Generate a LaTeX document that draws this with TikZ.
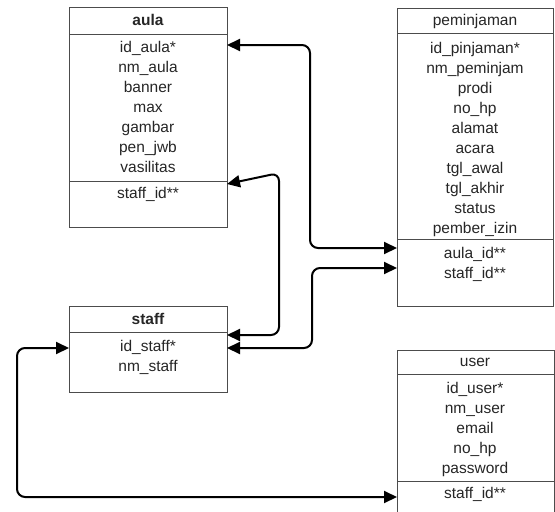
\documentclass[tikz,border=0pt]{standalone}
\usepackage{fontspec}
\setmainfont{Liberation Sans}
\usetikzlibrary{arrows.meta}
\begin{document}
\begin{tikzpicture}[x=1pt,y=-1pt]
\tikzset{
  box/.style={draw=black!70, line width=1pt},
  sep/.style={draw=black!70, line width=1pt},
  field/.style={inner sep=0pt, anchor=center, text height=11pt, text depth=3pt, text=black!85, font=\fontsize{15.5}{18}\selectfont},
  ttl/.style={field, font=\fontsize{15.5}{18}\selectfont\bfseries},
  ttlplain/.style={field},
  link/.style={line width=2pt, rounded corners=8pt,
    {Triangle[length=13pt,width=12pt]}-{Triangle[length=13pt,width=12pt]}}
}
\useasboundingbox (0,0) rectangle (555,512);
\fill[white] (0,0) rectangle (555,512);
% aula
\draw[box] (69,7) rectangle (227,227);
\draw[sep] (69,34) -- (227,34);
\draw[sep] (69,181) -- (227,181);
\node[ttl] (aulaT) at (148,21) {aula};
\node[field] (a1) at (148,48) {id\_aula*};
\node[field] (a2) at (148,68) {nm\_aula};
\node[field] (a3) at (148,88) {banner};
\node[field] (a4) at (148,108) {max};
\node[field] (a5) at (148,128) {gambar};
\node[field] (a6) at (148,148) {pen\_jwb};
\node[field] (a7) at (148,168) {vasilitas};
\node[field] (a8) at (148,194) {staff\_id**};
% peminjaman
\draw[box] (397,8) rectangle (553,306);
\draw[sep] (397,33) -- (553,33);
\draw[sep] (397,239) -- (553,239);
\node[ttlplain] (pT) at (475,21) {peminjaman};
\node[field] (p1) at (475,49) {id\_pinjaman*};
\node[field] (p2) at (475,69) {nm\_peminjam};
\node[field] (p3) at (475,89) {prodi};
\node[field] (p4) at (475,109) {no\_hp};
\node[field] (p5) at (475,129) {alamat};
\node[field] (p6) at (475,149) {acara};
\node[field] (p7) at (475,169) {tgl\_awal};
\node[field] (p8) at (475,189) {tgl\_akhir};
\node[field] (p9) at (475,209) {status};
\node[field] (p10) at (475,229) {pember\_izin};
\node[field] (p11) at (475,254) {aula\_id**};
\node[field] (p12) at (475,274) {staff\_id**};
% staff
\draw[box] (69,306) rectangle (227,392);
\draw[sep] (69,332) -- (227,332);
\node[ttl] (sT) at (148,320) {staff};
\node[field] (s1) at (148,347) {id\_staff*};
\node[field] (s2) at (148,367) {nm\_staff};
% user
\draw[box] (397,350) rectangle (554,530);
\draw[sep] (397,374) -- (554,374);
\draw[sep] (397,481) -- (554,481);
\node[ttlplain] (uT) at (475,362) {user};
\node[field] (u1) at (475,389) {id\_user*};
\node[field] (u2) at (475,409) {nm\_user};
\node[field] (u3) at (475,429) {email};
\node[field] (u4) at (475,449) {no\_hp};
\node[field] (u5) at (475,469) {password};
\node[field] (u6) at (475,494) {staff\_id**};
% connection points
\coordinate (aulaId) at (227,45);
\coordinate (aulaStaff) at (227,184);
\coordinate (pAula) at (397,248);
\coordinate (pStaff) at (397,268);
\coordinate (staffA) at (227,335);
\coordinate (staffB) at (227,348);
\coordinate (staffL) at (69,348);
\coordinate (userS) at (397,497);
% links
\draw[link] (aulaId) -- (310,45) -- (310,248) -- (pAula);
\draw[link] (aulaStaff) -- (279,173) -- (279,335) -- (staffA);
\draw[link] (staffB) -- (312,348) -- (312,268) -- (pStaff);
\draw[link] (staffL) -- (17,348) -- (17,497) -- (userS);
\end{tikzpicture}
\end{document}
